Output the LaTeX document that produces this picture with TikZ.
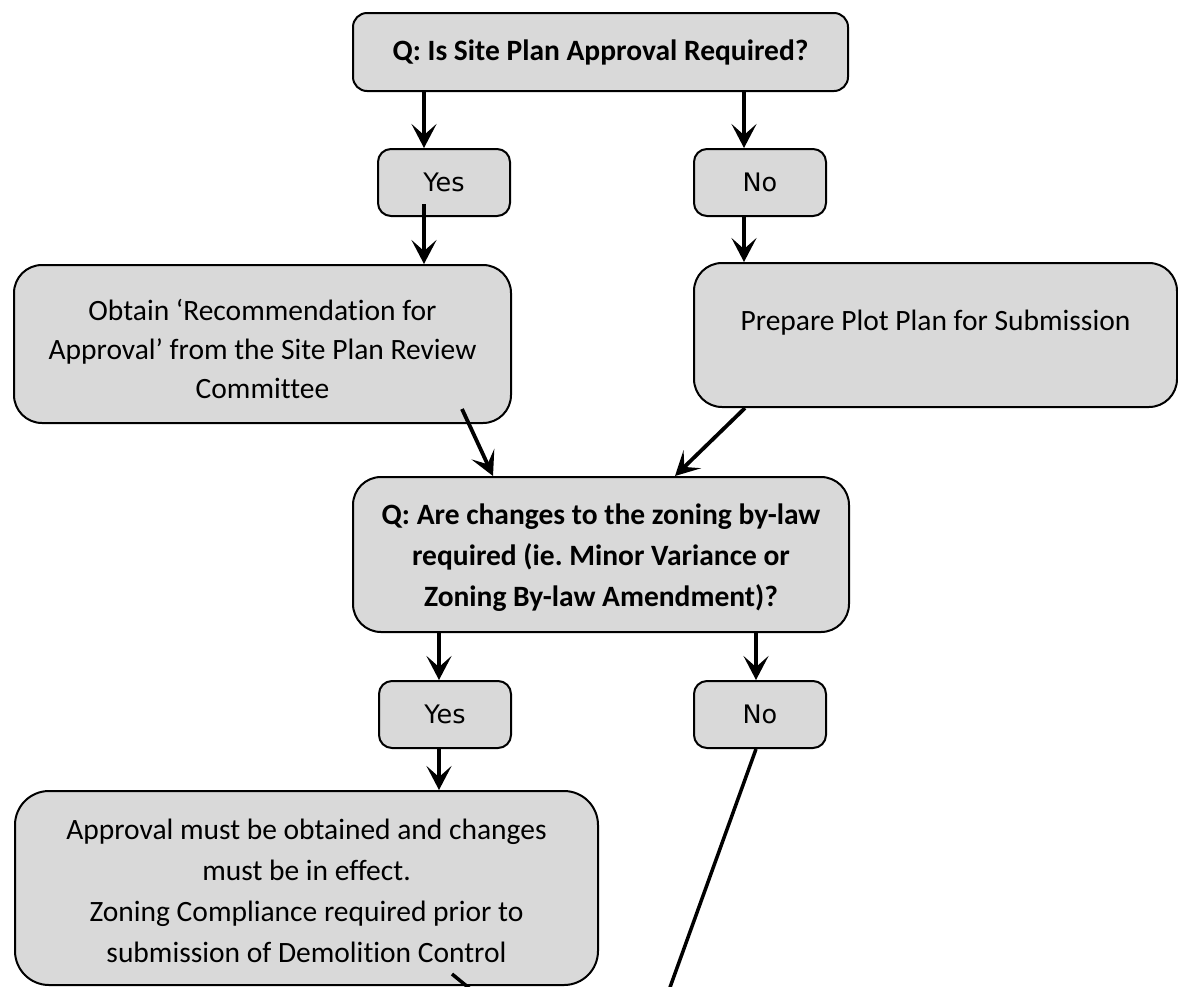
\documentclass[tikz,border=0pt]{standalone}
\usepackage{fontspec}
\setmainfont{Carlito}[Ligatures=NoCommon]
\newfontfamily\dvfont{DejaVu Sans}
\usetikzlibrary{arrows.meta,calc}
\frenchspacing
\definecolor{boxgray}{HTML}{D9D9D9}
\newcommand\regf{\fontsize{29.5}{39}\selectfont}
\newcommand\regwf{\fontsize{29.5}{41}\selectfont}
\newcommand\bldf{\fontsize{29.5}{41}\selectfont\bfseries}
\newcommand\ynf{\dvfont\fontsize{25.5}{30}\selectfont}
\tikzset{
  box/.style={draw=black, line width=2pt, fill=boxgray, anchor=north west,
              align=center, inner sep=0pt},
  smallbox/.style={box, rounded corners=13pt, minimum width=132pt, minimum height=67pt, font=\ynf},
  arr/.style={line width=3.8pt, -{Stealth[length=24pt,width=25pt,inset=11pt]}},
  plainline/.style={line width=3.5pt}
}
\begin{document}
\begin{tikzpicture}[x=1pt,y=-1pt]
\useasboundingbox (0,0) rectangle (1178,986);
\clip (0,0) rectangle (1178,986);

% boxes
\node[box, rounded corners=14pt, minimum width=495pt, minimum height=78pt, font=\bldf]
  (top) at (352,12) {Q: Is Site Plan Approval Required?};
\node[smallbox] (yes1) at (377,148) {Yes};
\node[smallbox] (no1) at (693,148) {No};
\node[box, rounded corners=28pt, minimum width=497pt, minimum height=158pt,
  label={[font=\regf,align=center,yshift=-5pt]center:Obtain ‘Recommendation for\\Approval’ from the Site Plan Review\\Committee}]
  (obtain) at (13,264) {};
\node[box, rounded corners=28pt, minimum width=483pt, minimum height=144pt,
  label={[font=\regf,yshift=12pt]center:Prepare Plot Plan for Submission}]
  (prepare) at (693,262) {};
\node[box, rounded corners=28pt, minimum width=496pt, minimum height=155pt,
  label={[font=\bldf,align=center,yshift=-3pt]center:Q: Are changes to the zoning by-law\\required (ie. Minor Variance or\\Zoning By-law Amendment)?}]
  (q2) at (352,476) {};
\node[smallbox] (yes2) at (378,680) {Yes};
\node[smallbox] (no2) at (693,680) {No};
\node[box, rounded corners=34pt, minimum width=583pt, minimum height=194pt,
  label={[font=\regwf,align=center,yshift=-3pt]center:Approval must be obtained and changes\\must be in effect.\\Zoning Compliance required prior to\\submission of Demolition Control}]
  (approval) at (14,790) {};

% helper x positions
\coordinate (xa) at (424,0);
\coordinate (xb) at (744,0);
\coordinate (xc) at (439,0);
\coordinate (xd) at (756,0);
\coordinate (endno) at (660,1015);
\coordinate (endap) at (480,997);

% connectors
\draw[arr] (xa |- top.south) -- (xa |- yes1.north);
\draw[arr] (xb |- top.south) -- (xb |- no1.north);
\draw[arr] ([yshift=13pt]xa |- yes1.south) -- (xa |- obtain.north);
\draw[arr] (xb |- no1.south) -- (xb |- prepare.north);
\draw[arr] ([shift={(-50pt,15pt)}]obtain.south east) -- ([xshift=141pt]q2.north west);
\draw[arr] ([xshift=52pt]prepare.south west) -- ([xshift=323pt]q2.north west);
\draw[arr] (xc |- q2.south) -- (xc |- yes2.north);
\draw[arr] (xd |- q2.south) -- (xd |- no2.north);
\draw[arr] (xc |- yes2.south) -- (xc |- approval.north);
\draw[plainline] (xd |- no2.south) -- (endno);
\draw[plainline] ([shift={(-147pt,12pt)}]approval.south east) -- (endap);
\end{tikzpicture}
\end{document}
